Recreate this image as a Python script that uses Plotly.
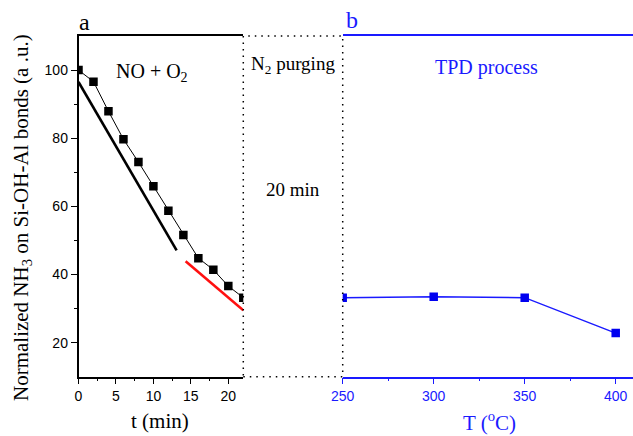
import plotly.graph_objects as go

# ---- data ----
t_min = [0, 2, 4, 6, 8, 10, 12, 14, 16, 18, 20, 22]
nh3_a = [100, 96.6, 87.9, 79.7, 73.0, 65.9, 58.7, 51.6, 44.8, 41.4, 36.6, 33.2]
fit1_t = [0, 13.1]
fit1_y = [96.5, 47.1]
fit2_t = [14.3, 22]
fit2_y = [43.9, 29.5]
temp_c = [250, 300, 350, 400]
nh3_b = [33.2, 33.5, 33.2, 22.8]
left_ticks = [0, 5, 10, 15, 20]
right_ticks = [250, 300, 350, 400]
y_ticks = [20, 40, 60, 80, 100]
y_minor = [30, 50, 70, 90]

W, H = 633, 436
BLUE = "#1a1aff"
SERIF = "Liberation Serif"
SANS = "Liberation Sans"

def px(x):
    return x / W

def py(y):
    return 1 - y / H

xl0, xl1 = px(78.5), px(243.3)
xr0 = px(342.7)
yd0, yd1 = py(376.7), py(36)

fig = go.Figure()
fig.add_trace(go.Scatter(x=fit1_t, y=fit1_y, mode="lines",
                         line=dict(color="black", width=2.6), xaxis="x", yaxis="y"))
fig.add_trace(go.Scatter(x=fit2_t, y=fit2_y, mode="lines",
                         line=dict(color="#ff1010", width=2.6), xaxis="x", yaxis="y"))
fig.add_trace(go.Scatter(x=t_min, y=nh3_a, mode="lines+markers",
                         line=dict(color="black", width=1),
                         marker=dict(symbol="square", size=8.5, color="black"),
                         xaxis="x", yaxis="y"))
fig.add_trace(go.Scatter(x=temp_c, y=nh3_b, mode="lines+markers",
                         line=dict(color=BLUE, width=1.5),
                         marker=dict(symbol="square", size=8.5, color="#0000f0"),
                         xaxis="x2", yaxis="y2"))

axis_common = dict(showgrid=False, zeroline=False, showline=True, linewidth=1.5,
                   ticks="outside", ticklen=6, tickwidth=1.2, automargin=False)

fig.update_layout(
    width=W, height=H,
    margin=dict(l=0, r=0, t=0, b=0, autoexpand=False),
    paper_bgcolor="white", plot_bgcolor="white",
    showlegend=False,
    xaxis=dict(domain=[xl0, xl1], range=[0, 22], anchor="y",
               tickvals=left_ticks, mirror=True, linecolor="black", tickcolor="black",
               tickfont=dict(family=SANS, size=14, color="black"),
               minor=dict(dtick=2.5, tick0=0, ticks="outside", ticklen=3, tickcolor="black"),
               **axis_common),
    yaxis=dict(domain=[yd0, yd1], range=[10, 110], anchor="x",
               tickvals=y_ticks, linecolor="black", tickcolor="black",
               tickfont=dict(family=SANS, size=14, color="black"),
               minor=dict(tickvals=y_minor, ticks="outside", ticklen=3, tickcolor="black"),
               **axis_common),
    xaxis2=dict(domain=[xr0, 1.0], range=[250, 409.5], anchor="y2",
                tickvals=right_ticks, mirror=True, linecolor=BLUE, tickcolor=BLUE,
                tickfont=dict(family=SANS, size=14, color=BLUE),
                minor=dict(dtick=25, tick0=250, ticks="outside", ticklen=3, tickcolor=BLUE),
                **axis_common),
    yaxis2=dict(domain=[yd0, yd1], range=[10, 110], anchor="x2", visible=False),
)

fig.add_shape(type="rect", xref="paper", yref="paper",
              x0=xl1, x1=xr0, y0=yd0, y1=yd1,
              line=dict(color="black", width=1.5, dash="1.5px,5px"))

def ann(text, x, y, size, color="black", angle=0):
    fig.add_annotation(text=text, x=px(x), y=py(y), xref="paper", yref="paper",
                       showarrow=False, xanchor="center", yanchor="middle",
                       textangle=angle,
                       font=dict(family=SERIF, size=size, color=color))

ann("a", 84, 22, 24)
ann("b", 352, 20, 24, BLUE)
ann("NO + O<sub>2</sub>", 152, 72, 20)
ann("N<sub>2</sub> purging", 293, 65, 19)
ann("20 min", 293, 190, 19)
ann("TPD process", 486, 68, 20, BLUE)
ann("t (min)", 160, 421, 21)
ann("T (<sup>o</sup>C)", 489, 421, 21, BLUE)
ann("Normalized NH<sub>3</sub> on Si-OH-Al bonds (a .u.)", 22, 218, 21, "black", -90)

fig.write_html("out.html")
